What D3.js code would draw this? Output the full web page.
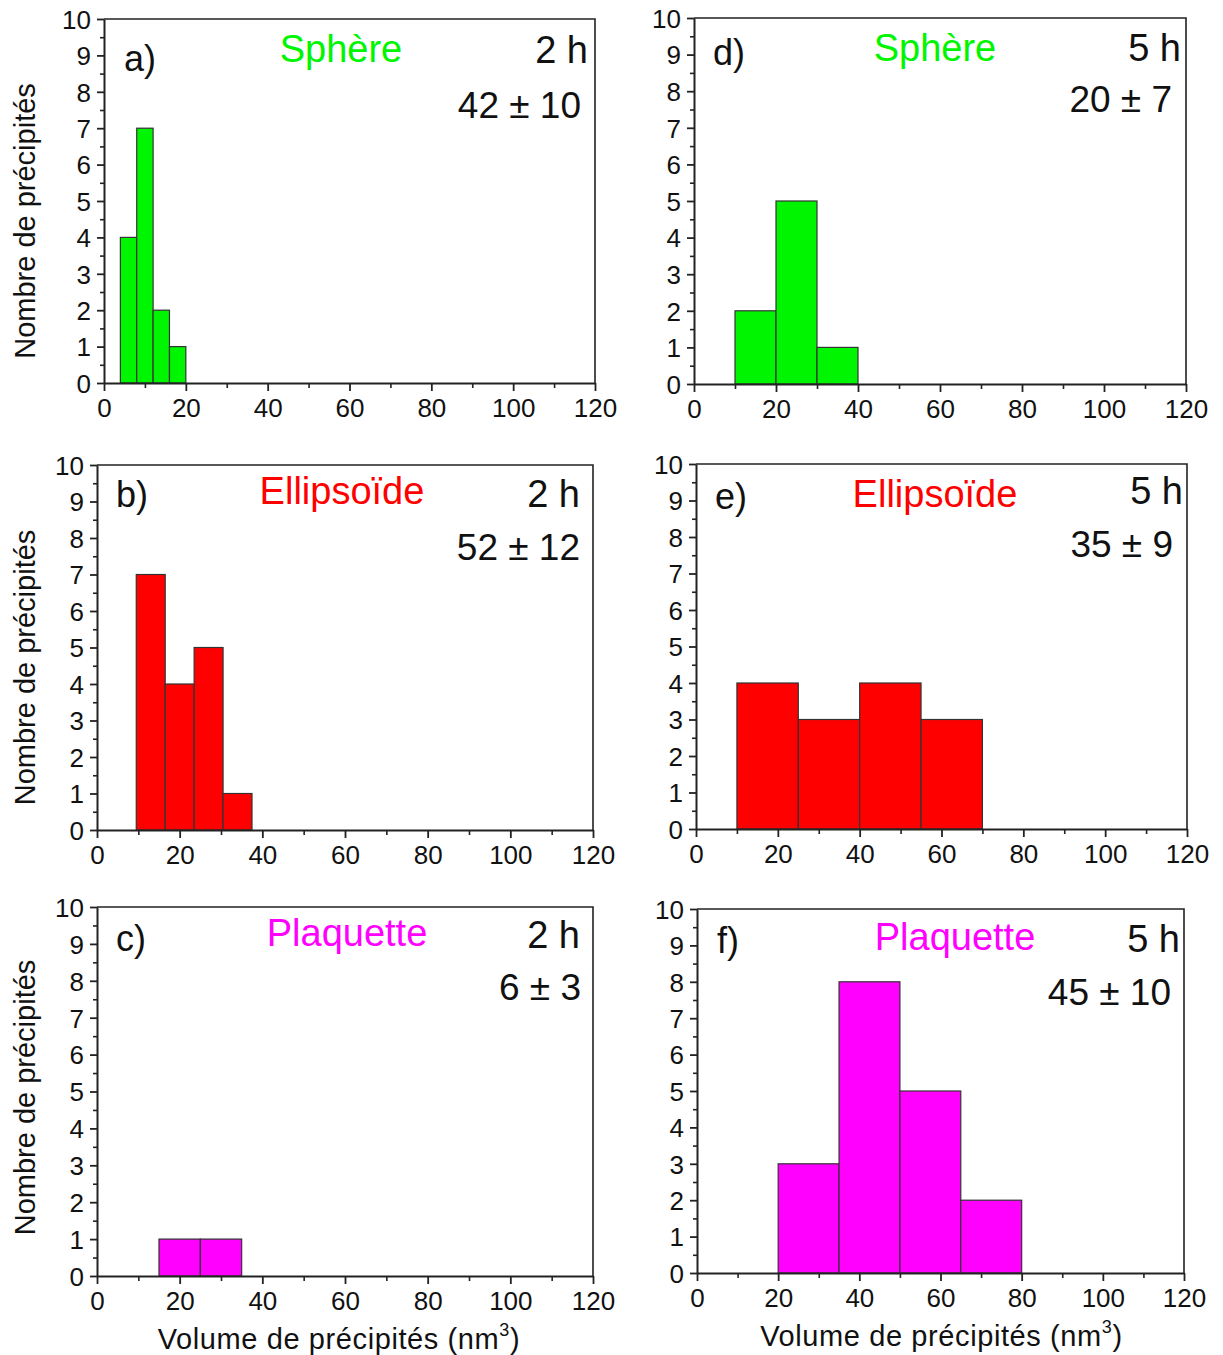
<!DOCTYPE html>
<html>
<head>
<meta charset="utf-8">
<script src="https://cdn.jsdelivr.net/npm/d3@7"></script>
<style>
  body { margin: 0; background: #fff; }
  svg text { font-family: "Liberation Sans", Arial, sans-serif; }
</style>
</head>
<body>
<svg id="chart" width="1223" height="1355"></svg>
<script>
// ---------- data ----------
const panelLetters = ["a)", "b)", "c)", "d)", "e)", "f)"];
const shapeNames = ["Sphère", "Ellipsoïde", "Plaquette", "Sphère", "Ellipsoïde", "Plaquette"];
const durations = ["2 h", "2 h", "2 h", "5 h", "5 h", "5 h"];
const meanValues = ["42 ± 10", "52 ± 12", "6 ± 3", "20 ± 7", "35 ± 9", "45 ± 10"];

const edgesA = [4, 8, 12, 16, 20];
const countsA = [4, 7, 2, 1];
const edgesB = [9.5, 16.5, 23.5, 30.5, 37.5];
const countsB = [7, 4, 5, 1];
const edgesC = [15, 25, 35];
const countsC = [1, 1];
const edgesD = [10, 20, 30, 40];
const countsD = [2, 5, 1];
const edgesE = [10, 25, 40, 55, 70];
const countsE = [4, 3, 4, 3];
const edgesF = [20, 35, 50, 65, 80];
const countsF = [3, 8, 5, 2];

const xTicks = [0, 20, 40, 60, 80, 100, 120];
const yTicks = [0, 1, 2, 3, 4, 5, 6, 7, 8, 9, 10];
const yLabel = "Nombre de précipités";
const xLabel = "Volume de précipités (nm";

// ---------- layout / style ----------
const shapeColors = {"Sphère": "#00f500", "Ellipsoïde": "#ff0000", "Plaquette": "#ff00ff"};
const panels = [
  {edges: edgesA, counts: countsA, l: 104, r: 595, t: 19, b: 383,
   letter: [124, 71], name: [341, 62], dur: [588, 63], mean: [581, 118], ylab: true, xlab: false},
  {edges: edgesB, counts: countsB, l: 97, r: 593, t: 465, b: 830,
   letter: [116, 507], name: [342, 504], dur: [580, 507], mean: [580, 560], ylab: true, xlab: false},
  {edges: edgesC, counts: countsC, l: 97, r: 593, t: 907, b: 1276,
   letter: [116, 951], name: [347, 946], dur: [580, 948], mean: [581, 1000], ylab: true, xlab: true, xlabShift: -6},
  {edges: edgesD, counts: countsD, l: 694, r: 1186, t: 18, b: 384,
   letter: [713, 65], name: [935, 61], dur: [1181, 61], mean: [1172, 112], ylab: false, xlab: false},
  {edges: edgesE, counts: countsE, l: 696, r: 1187, t: 464, b: 829,
   letter: [715, 509], name: [935, 507], dur: [1183, 504], mean: [1173, 557], ylab: false, xlab: false},
  {edges: edgesF, counts: countsF, l: 697, r: 1184, t: 909, b: 1273,
   letter: [717, 953], name: [955, 950], dur: [1180, 952], mean: [1171, 1005], ylab: false, xlab: true, xlabShift: 1},
];

const svg = d3.select("#chart");

panels.forEach((p, i) => {
  const color = shapeColors[shapeNames[i]];
  const x = d3.scaleLinear().domain([0, 120]).range([p.l, p.r]);
  const y = d3.scaleLinear().domain([0, 10]).range([p.b, p.t]);
  const g = svg.append("g");

  // bars
  const bins = p.counts.map((c, k) => ({x0: p.edges[k], x1: p.edges[k + 1], c}));
  g.selectAll("rect.bar").data(bins).join("rect")
    .attr("class", "bar")
    .attr("x", d => x(d.x0))
    .attr("y", d => y(d.c))
    .attr("width", d => x(d.x1) - x(d.x0))
    .attr("height", d => y(0) - y(d.c))
    .attr("fill", color)
    .attr("stroke", "#333")
    .attr("stroke-width", 1.2);

  // frame (top & right)
  g.append("path")
    .attr("d", `M${p.l},${p.t}H${p.r}V${p.b}`)
    .attr("fill", "none").attr("stroke", "#222").attr("stroke-width", 1.6);

  // minor ticks
  const yMinor = d3.range(0.5, 10, 1);
  const xMinor = d3.range(10, 120, 20);
  const yAxisMinor = g.append("g").attr("transform", `translate(${p.l},0)`)
    .call(d3.axisLeft(y).tickValues(yMinor).tickSize(4).tickSizeOuter(0).tickFormat(""));
  const xAxisMinor = g.append("g").attr("transform", `translate(0,${p.b})`)
    .call(d3.axisBottom(x).tickValues(xMinor).tickSize(5).tickSizeOuter(0).tickFormat(""));
  [yAxisMinor, xAxisMinor].forEach(a => {
    a.select(".domain").remove();
    a.selectAll("line").attr("stroke", "#222").attr("stroke-width", 1.6);
  });

  // major axes
  const yAxis = g.append("g").attr("transform", `translate(${p.l},0)`)
    .call(d3.axisLeft(y).tickValues(yTicks).tickSize(7).tickSizeOuter(0).tickPadding(6));
  const xAxis = g.append("g").attr("transform", `translate(0,${p.b})`)
    .call(d3.axisBottom(x).tickValues(xTicks).tickSize(8).tickSizeOuter(0).tickPadding(8));
  [yAxis, xAxis].forEach(a => {
    a.select(".domain").attr("stroke", "#222").attr("stroke-width", 2);
    a.selectAll("line").attr("stroke", "#222").attr("stroke-width", 1.8);
    a.selectAll("text").attr("font-size", 26).attr("fill", "#111")
      .attr("font-family", "'Liberation Sans', Arial, sans-serif");
  });
  yAxis.selectAll("text").attr("dy", "0.36em");

  // annotations
  g.append("text").attr("x", p.letter[0]).attr("y", p.letter[1])
    .attr("font-size", 36).attr("fill", "#111").text(panelLetters[i]);
  g.append("text").attr("x", p.name[0]).attr("y", p.name[1])
    .attr("text-anchor", "middle").attr("font-size", 38).attr("fill", color).text(shapeNames[i]);
  g.append("text").attr("x", p.dur[0]).attr("y", p.dur[1])
    .attr("text-anchor", "end").attr("font-size", 38).attr("fill", "#111").text(durations[i]);
  g.append("text").attr("x", p.mean[0]).attr("y", p.mean[1])
    .attr("text-anchor", "end").attr("font-size", 37).attr("fill", "#111").text(meanValues[i]);

  if (p.ylab) {
    const cy = (p.t + p.b) / 2 + (i === 2 ? 6 : 20);
    g.append("text")
      .attr("transform", `translate(35,${cy}) rotate(-90)`)
      .attr("text-anchor", "middle").attr("font-size", 29).attr("fill", "#111")
      .text(yLabel);
  }
  if (p.xlab) {
    const cx = (p.l + p.r) / 2 + p.xlabShift;
    const t = g.append("text").attr("x", cx).attr("y", p.b + 73)
      .attr("text-anchor", "middle").attr("font-size", 29).attr("fill", "#111")
      .attr("letter-spacing", 0.6);
    t.append("tspan").text(xLabel);
    t.append("tspan").attr("font-size", 18).attr("dy", -13).text("3");
    t.append("tspan").attr("dy", 13).text(")");
  }
});
</script>
</body>
</html>
